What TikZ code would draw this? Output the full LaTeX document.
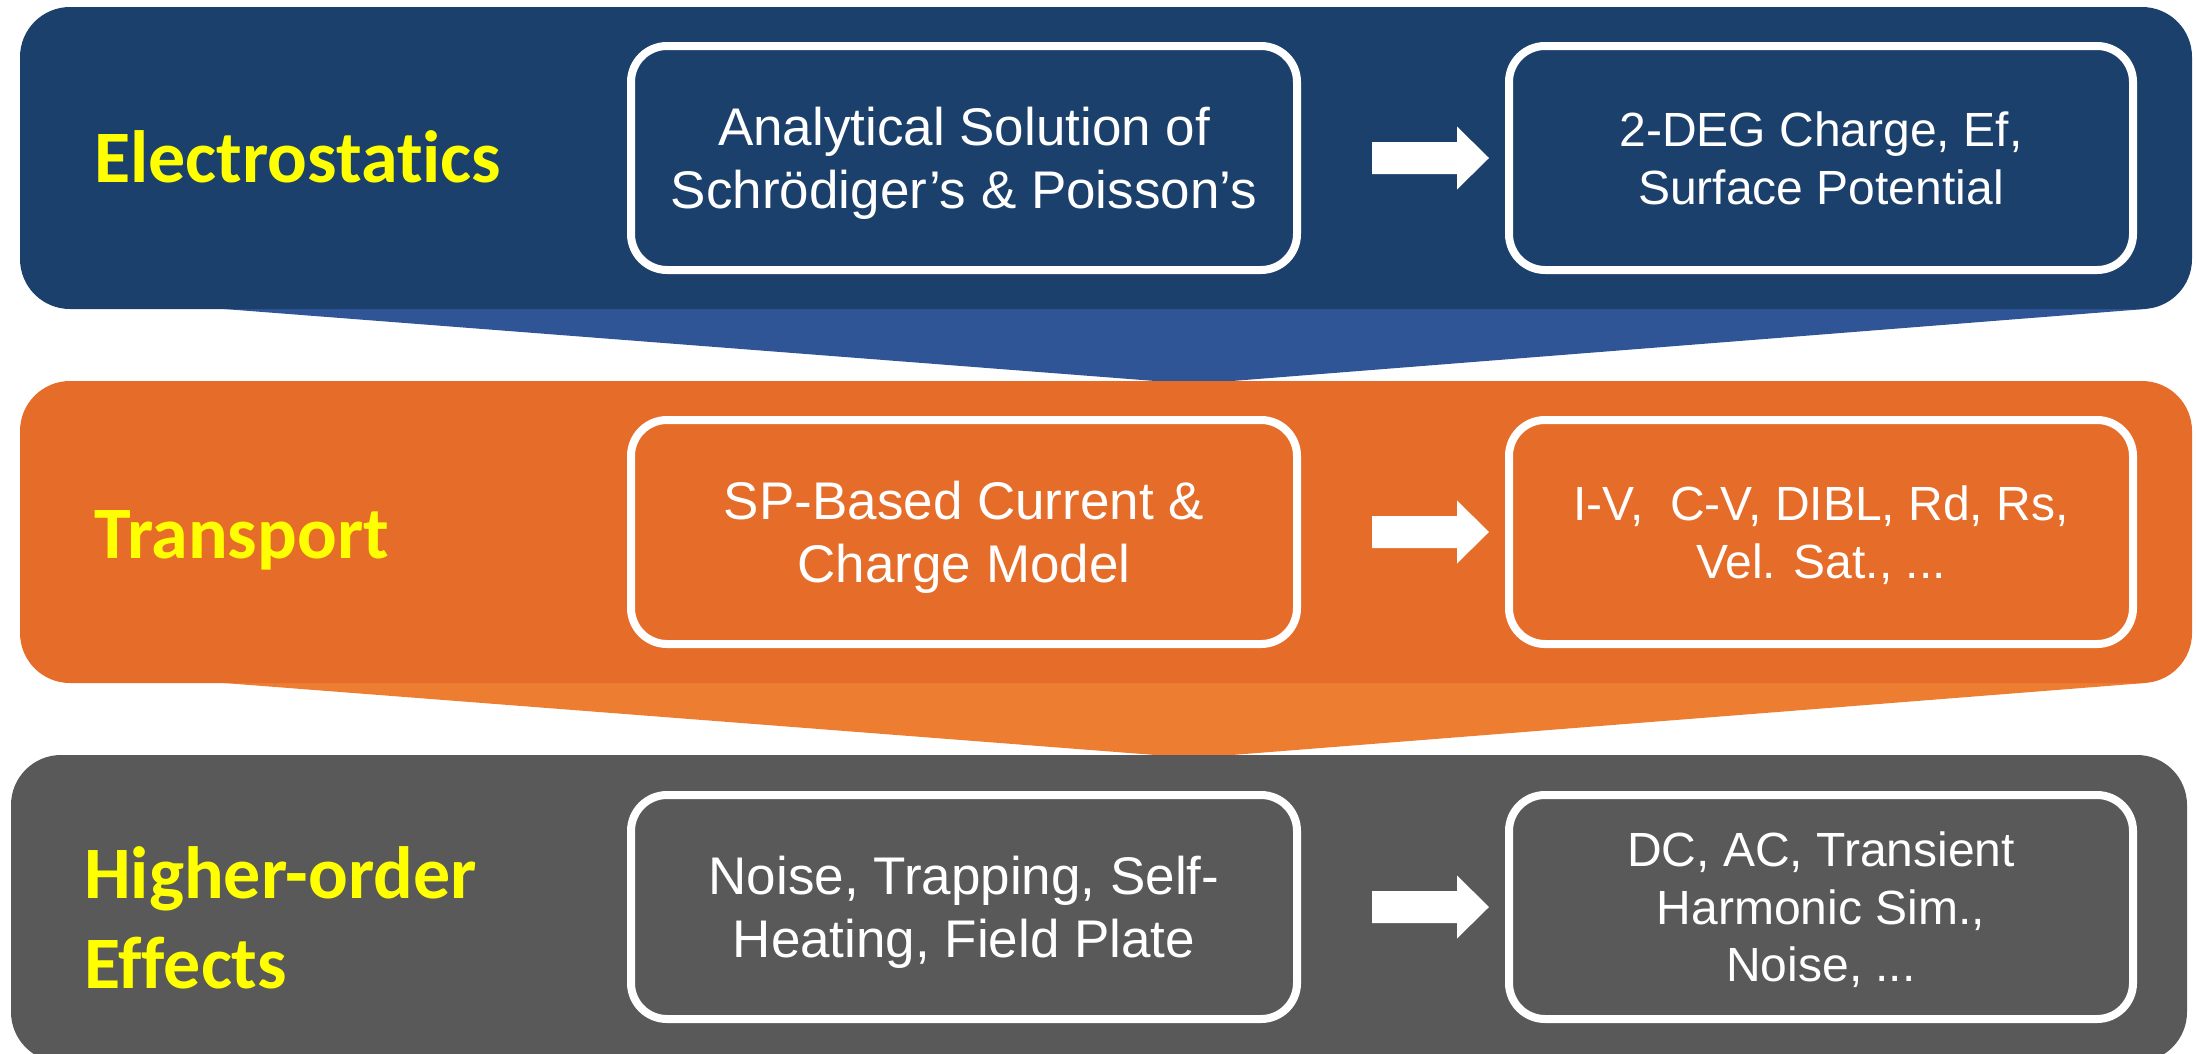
\documentclass[tikz,border=0pt]{standalone}
\usepackage{fontspec}
\setmainfont{Liberation Sans}
\newfontfamily\labfont{Carlito}[Ligatures=NoCommon]
\usetikzlibrary{calc}
\definecolor{bandblue}{HTML}{1B406B}
\definecolor{triblue}{HTML}{2F5597}
\definecolor{bandorange}{HTML}{E66C29}
\definecolor{triorange}{HTML}{ED7D31}
\definecolor{bandgray}{HTML}{595959}
\definecolor{labyellow}{HTML}{FFFF00}
\newcommand\blockarrow[2]{%
  \fill[white] let \p1=(#1.east), \p2=(#2.west) in
    (\x1+71pt,\y1+16pt) -- (\x2-48pt,\y1+16pt) -- (\x2-48pt,\y1+31.5pt) --
    (\x2-16pt,\y1) -- (\x2-48pt,\y1-31.5pt) -- (\x2-48pt,\y1-16pt) --
    (\x1+71pt,\y1-16pt) -- cycle;}
\begin{document}
\begin{tikzpicture}[x=1pt,y=-1pt,
  band/.style={rounded corners=50pt},
  lab/.style={text=labyellow, font=\labfont\bfseries\fontsize{74}{90}\selectfont,
    inner sep=0pt, anchor=west, align=left, text height=47.7pt, text depth=0pt},
  inbox/.style={draw=white, line width=8pt, rounded corners=36pt, text=white,
    align=center, inner sep=0pt, minimum height=224pt, text depth=0pt},
  bigtxt/.style={inbox, minimum width=666pt, font=\fontsize{53}{63.6}\selectfont,
    text height=101.5pt},
  smalltxt/.style={inbox, minimum width=624pt, font=\fontsize{48}{57.6}\selectfont,
    text height=92pt},
  threeline/.style={text height=149.6pt}]
\useasboundingbox (0,0) rectangle (2196,1053);
\clip (0,0) rectangle (2196,1053);
% connecting trapezoid tabs
\fill[triblue] (224,304) -- (2145,304) -- (2145,309) -- (1194,384) -- (224,309) -- cycle;
\fill[triorange] (224,678) -- (2145,678) -- (2145,683) -- (1194,758) -- (224,683) -- cycle;
% bands
\fill[bandblue, band] (20,7) rectangle (2192,309);
\fill[bandorange, band] (20,381) rectangle (2192,683);
\fill[bandgray, band] (11,755) rectangle (2187,1062);
% labels
\node[lab] (l1) at (94,159) {Electrostatics};
\node[lab] (l2) at (94,535) {Transport};
\node[lab, text height=137.7pt] (l3) at (84,920) {Higher-order\\Effects};
% boxes
\node[bigtxt] (a1) at (964,158) {Analytical Solution of\\Schrödiger’s \& Poisson’s};
\node[smalltxt] (b1) at (1821,158) {2-DEG Charge, Ef,\\Surface Potential};
\node[bigtxt] (a2) at (964,532) {SP-Based Current \&\\Charge Model};
\node[smalltxt] (b2) at (1821,532) {I-V,\ \ C-V, DIBL, Rd, Rs,\\Vel. Sat., ...};
\node[bigtxt] (a3) at (964,907) {Noise, Trapping, Self-\\Heating, Field Plate};
\node[smalltxt, threeline] (b3) at (1821,907) {DC, AC, Transient\\Harmonic Sim.,\\Noise, ...};
% arrows
\blockarrow{a1}{b1}
\blockarrow{a2}{b2}
\blockarrow{a3}{b3}
\end{tikzpicture}
\end{document}
